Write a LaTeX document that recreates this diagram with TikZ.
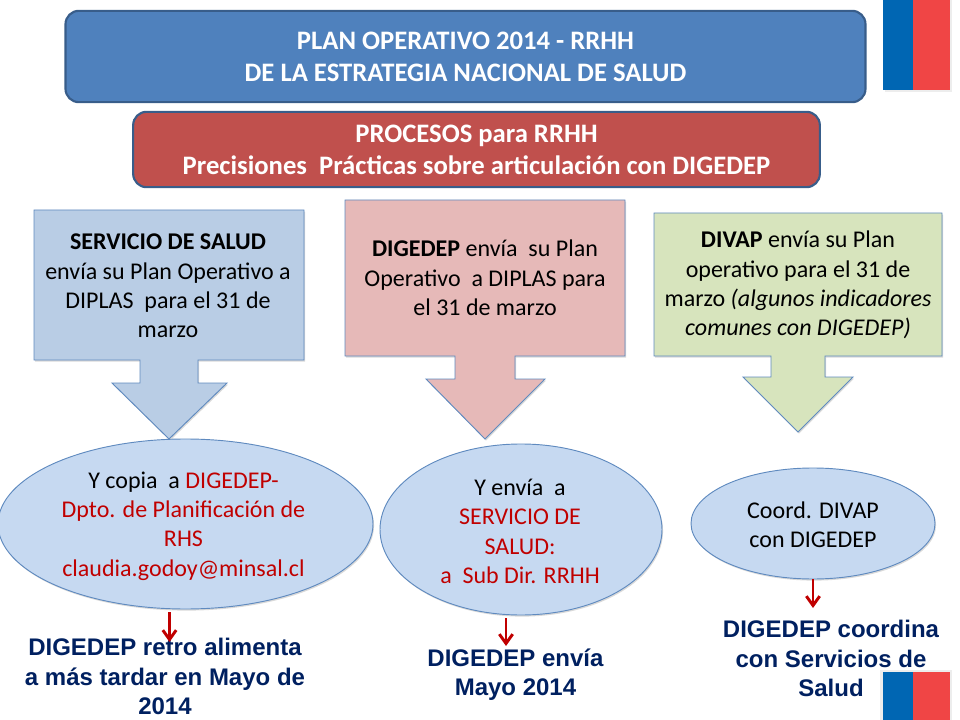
\documentclass[tikz,border=0pt]{standalone}
\usepackage{fontspec}
\setmainfont{Carlito}
\newfontfamily\labelfont{Liberation Sans}
\usetikzlibrary{shapes.geometric,shadows,arrows.meta}

\definecolor{titleblue}{HTML}{4F81BD}
\definecolor{titlered}{HTML}{C0504D}
\definecolor{edgeblue}{HTML}{385D8A}
\definecolor{thinblue}{HTML}{5F8ABF}
\definecolor{boxblue}{HTML}{B9CDE5}
\definecolor{boxpink}{HTML}{E6B9B8}
\definecolor{boxgreen}{HTML}{D7E4BD}
\definecolor{ovalblue}{HTML}{C6D9F1}
\definecolor{darkred}{HTML}{C00000}
\definecolor{navy}{HTML}{002060}
\definecolor{flagblue}{HTML}{0066B3}
\definecolor{flagred}{HTML}{F04545}

\tikzset{
  softshadow/.style={drop shadow={opacity=.3,shadow xshift=.8pt,shadow yshift=-1.2pt}},
  banner/.style={draw=edgeblue,line width=1.6pt,rounded corners=10pt,text=white,align=center,
    font=\fontsize{20}{24}\selectfont\bfseries},
  callout/.style={draw=thinblue,line width=.7pt,softshadow},
  bodytext/.style={align=center,inner sep=0pt,font=\fontsize{18}{22}\selectfont},
  oval/.style={ellipse,draw=thinblue,line width=.7pt,fill=ovalblue,inner sep=0pt,softshadow},
  outcome/.style={align=center,inner sep=0pt,text=navy,font=\fontsize{18}{22}\selectfont\labelfont\bfseries},
  feedback/.style={draw=darkred,line width=2.2pt,-{Straight Barb[length=7pt,width=10pt]}},
}

\begin{document}
\begin{tikzpicture}[x=.75pt,y=-.75pt]
\useasboundingbox (0,0) rectangle (960,720);

% banners
\node[banner,fill=titleblue,minimum width=600pt,minimum height=68.5pt] (plan) at (465.5,56.5)
  {PLAN OPERATIVO 2014 - RRHH\\DE LA ESTRATEGIA NACIONAL DE SALUD};
\node[banner,fill=titlered,minimum width=515pt,minimum height=56.5pt] (procesos) at (476.5,149.5)
  {PROCESOS para RRHH\\Precisiones\ \ Pr\'acticas sobre articulaci\'on con DIGEDEP};

% flags
\fill[black!7] (885,0) rectangle (952,92);
\fill[flagblue] (883,0) rectangle (913,90);
\fill[flagred] (913,0) rectangle (950,90);
\fill[black!7] (880,670) rectangle (952,720);
\fill[flagblue] (883,672) rectangle (913,720);
\fill[flagred] (913,672) rectangle (950,720);

% callouts
\draw[callout,fill=boxblue] (34,210) -- (304,210) -- (304,360) -- (198,360) -- (198,383) -- (227,383)
  -- (169,439) -- (112,383) -- (140,383) -- (140,360) -- (34,360) -- cycle;
\draw[callout,fill=boxpink] (345,200) -- (625,200) -- (625,356) -- (515,356) -- (515,379) -- (545,379)
  -- (485,439) -- (426,379) -- (455,379) -- (455,356) -- (345,356) -- cycle;
\draw[callout,fill=boxgreen] (654,213) -- (942,213) -- (942,356) -- (825,356) -- (825,377) -- (853,377)
  -- (798,432) -- (743,377) -- (771,377) -- (771,356) -- (654,356) -- cycle;

% labels of the callouts
\node[bodytext] (salud) at (168,286) {\textbf{SERVICIO DE SALUD}\\env\'ia su Plan Operativo a\\DIPLAS\ \ para el 31 de\\marzo};
\node[bodytext] (digedep) at (485,278) {\textbf{DIGEDEP} env\'ia\ \ su Plan\\Operativo\ \ a DIPLAS para\\el 31 de marzo};
\node[bodytext] (divap) at (798,285) {\textbf{DIVAP} env\'ia su Plan\\operativo para el 31 de\\marzo \textit{(algunos indicadores}\\\textit{comunes con DIGEDEP)}};

% ovals
\node[oval,minimum width=281.25pt,minimum height=127.5pt] (copia) at (185.5,524) {};
\node[oval,minimum width=211.5pt,minimum height=128.25pt] (envia) at (521,529.5) {};
\node[oval,minimum width=183pt,minimum height=83.25pt] (coord) at (813,523.5) {};

% labels of the ovals
\node[bodytext] (copiatext) at (183.5,526)
  {Y copia\ \ a \textcolor{darkred}{DIGEDEP-}\\\textcolor{darkred}{Dpto. de Planificaci\'on de}\\\textcolor{darkred}{RHS}\\\textcolor{darkred}{claudia.godoy@minsal.cl}};
\node[bodytext] (enviatext) at (520,531.5)
  {Y env\'ia\ \ a\\\textcolor{darkred}{SERVICIO DE}\\\textcolor{darkred}{SALUD:}\\\textcolor{darkred}{a\ \ Sub Dir. RRHH}};
\node[bodytext] (coordtext) at (813,524.5) {Coord. DIVAP\\con DIGEDEP};

% outcomes
\node[outcome] (retro) at (165,676.5) {DIGEDEP retro alimenta\\a m\'as tardar en Mayo de\\2014};
\node[outcome] (mayo) at (515.5,675) {DIGEDEP env\'ia\\Mayo 2014};
\node[outcome] (coordina) at (831,658.5) {DIGEDEP coordina\\con Servicios de\\Salud};

% red arrows
\coordinate (retrotip) at (169.5,642);
\coordinate (mayotip) at (506,646);
\coordinate (coordinatip) at (813,608);
\draw[feedback] ([yshift=-2.2pt]copia.south -| retrotip) -- (retrotip);
\draw[feedback] ([yshift=-2.2pt]envia.south -| mayotip) -- (mayotip);
\draw[feedback] (coord.south) -- (coordinatip);
\end{tikzpicture}
\end{document}
